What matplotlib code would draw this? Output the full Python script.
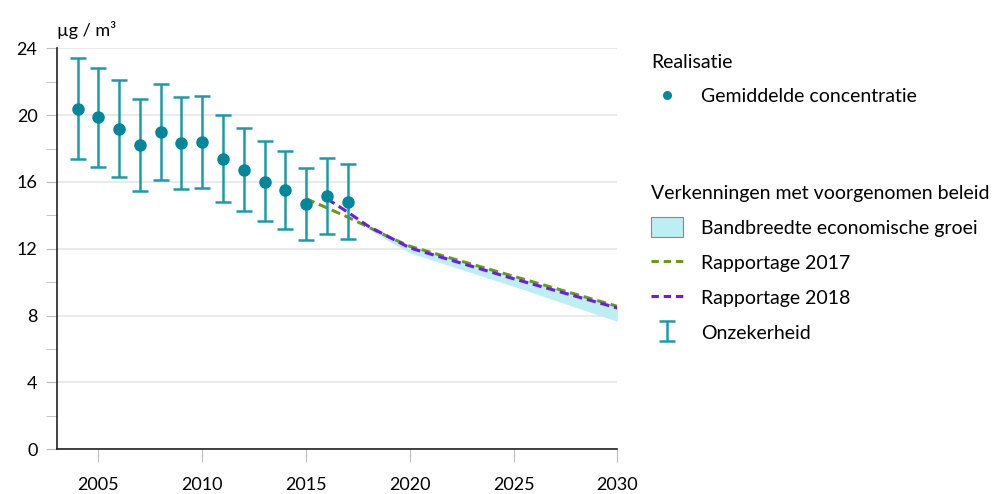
import numpy as np
import matplotlib.pyplot as plt
from matplotlib.patches import Patch
from matplotlib.lines import Line2D

plt.rcParams['font.family'] = ['Lato', 'DejaVu Sans']

# realisatie (gemiddelde concentratie met onzekerheid)
years = [2004, 2005, 2006, 2007, 2008, 2009, 2010, 2011, 2012, 2013, 2014, 2015, 2016, 2017]
conc = [20.4, 19.9, 19.2, 18.2, 19.0, 18.35, 18.4, 17.4, 16.7, 16.0, 15.5, 14.7, 15.15, 14.8]
err_hi = [23.45, 22.85, 22.1, 20.95, 21.85, 21.1, 21.15, 20.0, 19.25, 18.45, 17.85, 16.85, 17.45, 17.05]
err_lo = [17.35, 16.9, 16.3, 15.45, 16.1, 15.55, 15.65, 14.8, 14.25, 13.65, 13.2, 12.5, 12.9, 12.6]

# verkenningen
r17_years = [2015, 2016, 2017, 2018, 2019, 2020, 2025, 2030]
r17_vals = [15.0, 14.45, 13.9, 13.3, 12.7, 12.15, 10.35, 8.55]
r18_years = [2016, 2017, 2018, 2019, 2020, 2025, 2030]
r18_vals = [15.0, 14.2, 13.35, 12.7, 12.05, 10.2, 8.45]
band_years = [2018, 2019, 2020, 2025, 2030]
band_hi = [13.3, 12.75, 12.2, 10.35, 8.6]
band_lo = [13.2, 12.45, 11.75, 9.75, 7.65]

teal = '#1b9aab'
dot = '#00879a'
green = '#6b9b16'
purple = '#6a1cf0'
bandc = '#bdeef2'

fig = plt.figure(figsize=(9.99, 4.94), dpi=100)
ax = fig.add_axes([0.057, 0.091, 0.561, 0.811])

ax.fill_between(band_years, band_lo, band_hi, color=bandc, lw=0, zorder=1)
ax.plot(r17_years, r17_vals, '--', color=green, lw=2.2, dashes=(3, 1.6), zorder=3)
ax.plot(r18_years, r18_vals, '--', color=purple, lw=2.2, dashes=(3, 1.6), zorder=3)

y = np.array(conc)
eb = ax.errorbar(years, conc, yerr=[y - np.array(err_lo), np.array(err_hi) - y],
                 fmt='none', ecolor=teal, elinewidth=1.8, capsize=6, capthick=1.8, zorder=4)
ax.plot(years, conc, 'o', color=dot, ms=8, zorder=5)

ax.set_xlim(2003, 2030)
ax.set_ylim(0, 24)
ax.set_xticks([2005, 2010, 2015, 2020, 2025, 2030])
ax.set_yticks(np.arange(0, 25, 4))
ax.set_yticks(np.arange(2, 24, 4), minor=True)
ax.grid(axis='y', color='#e6e6e6', lw=1.2, zorder=0)
ax.set_axisbelow(True)
for s in ['top', 'right']:
    ax.spines[s].set_visible(False)
for s in ['left', 'bottom']:
    ax.spines[s].set_color('#222222')
    ax.spines[s].set_linewidth(1.2)
ax.tick_params(axis='y', which='both', length=8, color='#bbbbbb', labelsize=13, pad=6)
ax.tick_params(axis='x', length=9, color='#bbbbbb', labelsize=13, pad=11)
fig.text(0.057, 0.94, 'µg / m³', fontsize=13, ha='left', va='center')

handles1 = [Line2D([], [], marker='o', ls='none', color=dot, ms=5.5)]
fig.legend(handles1, ['Gemiddelde concentratie'], title='Realisatie',
           loc='upper left', bbox_to_anchor=(0.652, 0.89), frameon=False,
           fontsize=14, title_fontsize=14, handlelength=1.65, handletextpad=0.9,
           labelspacing=0.85, alignment='left', borderpad=0, borderaxespad=0)

handles2 = [Patch(facecolor=bandc, edgecolor='#888888', lw=0.8),
            Line2D([], [], ls='--', color=green, lw=2.2, dashes=(2.4, 1.6)),
            Line2D([], [], ls='--', color=purple, lw=2.2, dashes=(2.4, 1.6)),
            eb]
labels2 = ['Bandbreedte economische groei', 'Rapportage 2017', 'Rapportage 2018', 'Onzekerheid']
fig.legend(handles2, labels2, title='Verkenningen met voorgenomen beleid',
           loc='upper left', bbox_to_anchor=(0.652, 0.625), frameon=False,
           fontsize=14, title_fontsize=14, handlelength=1.65, handleheight=1.2,
           handletextpad=0.9, labelspacing=0.78, alignment='left', borderpad=0, borderaxespad=0)

fig.savefig('out.png', dpi=100)
